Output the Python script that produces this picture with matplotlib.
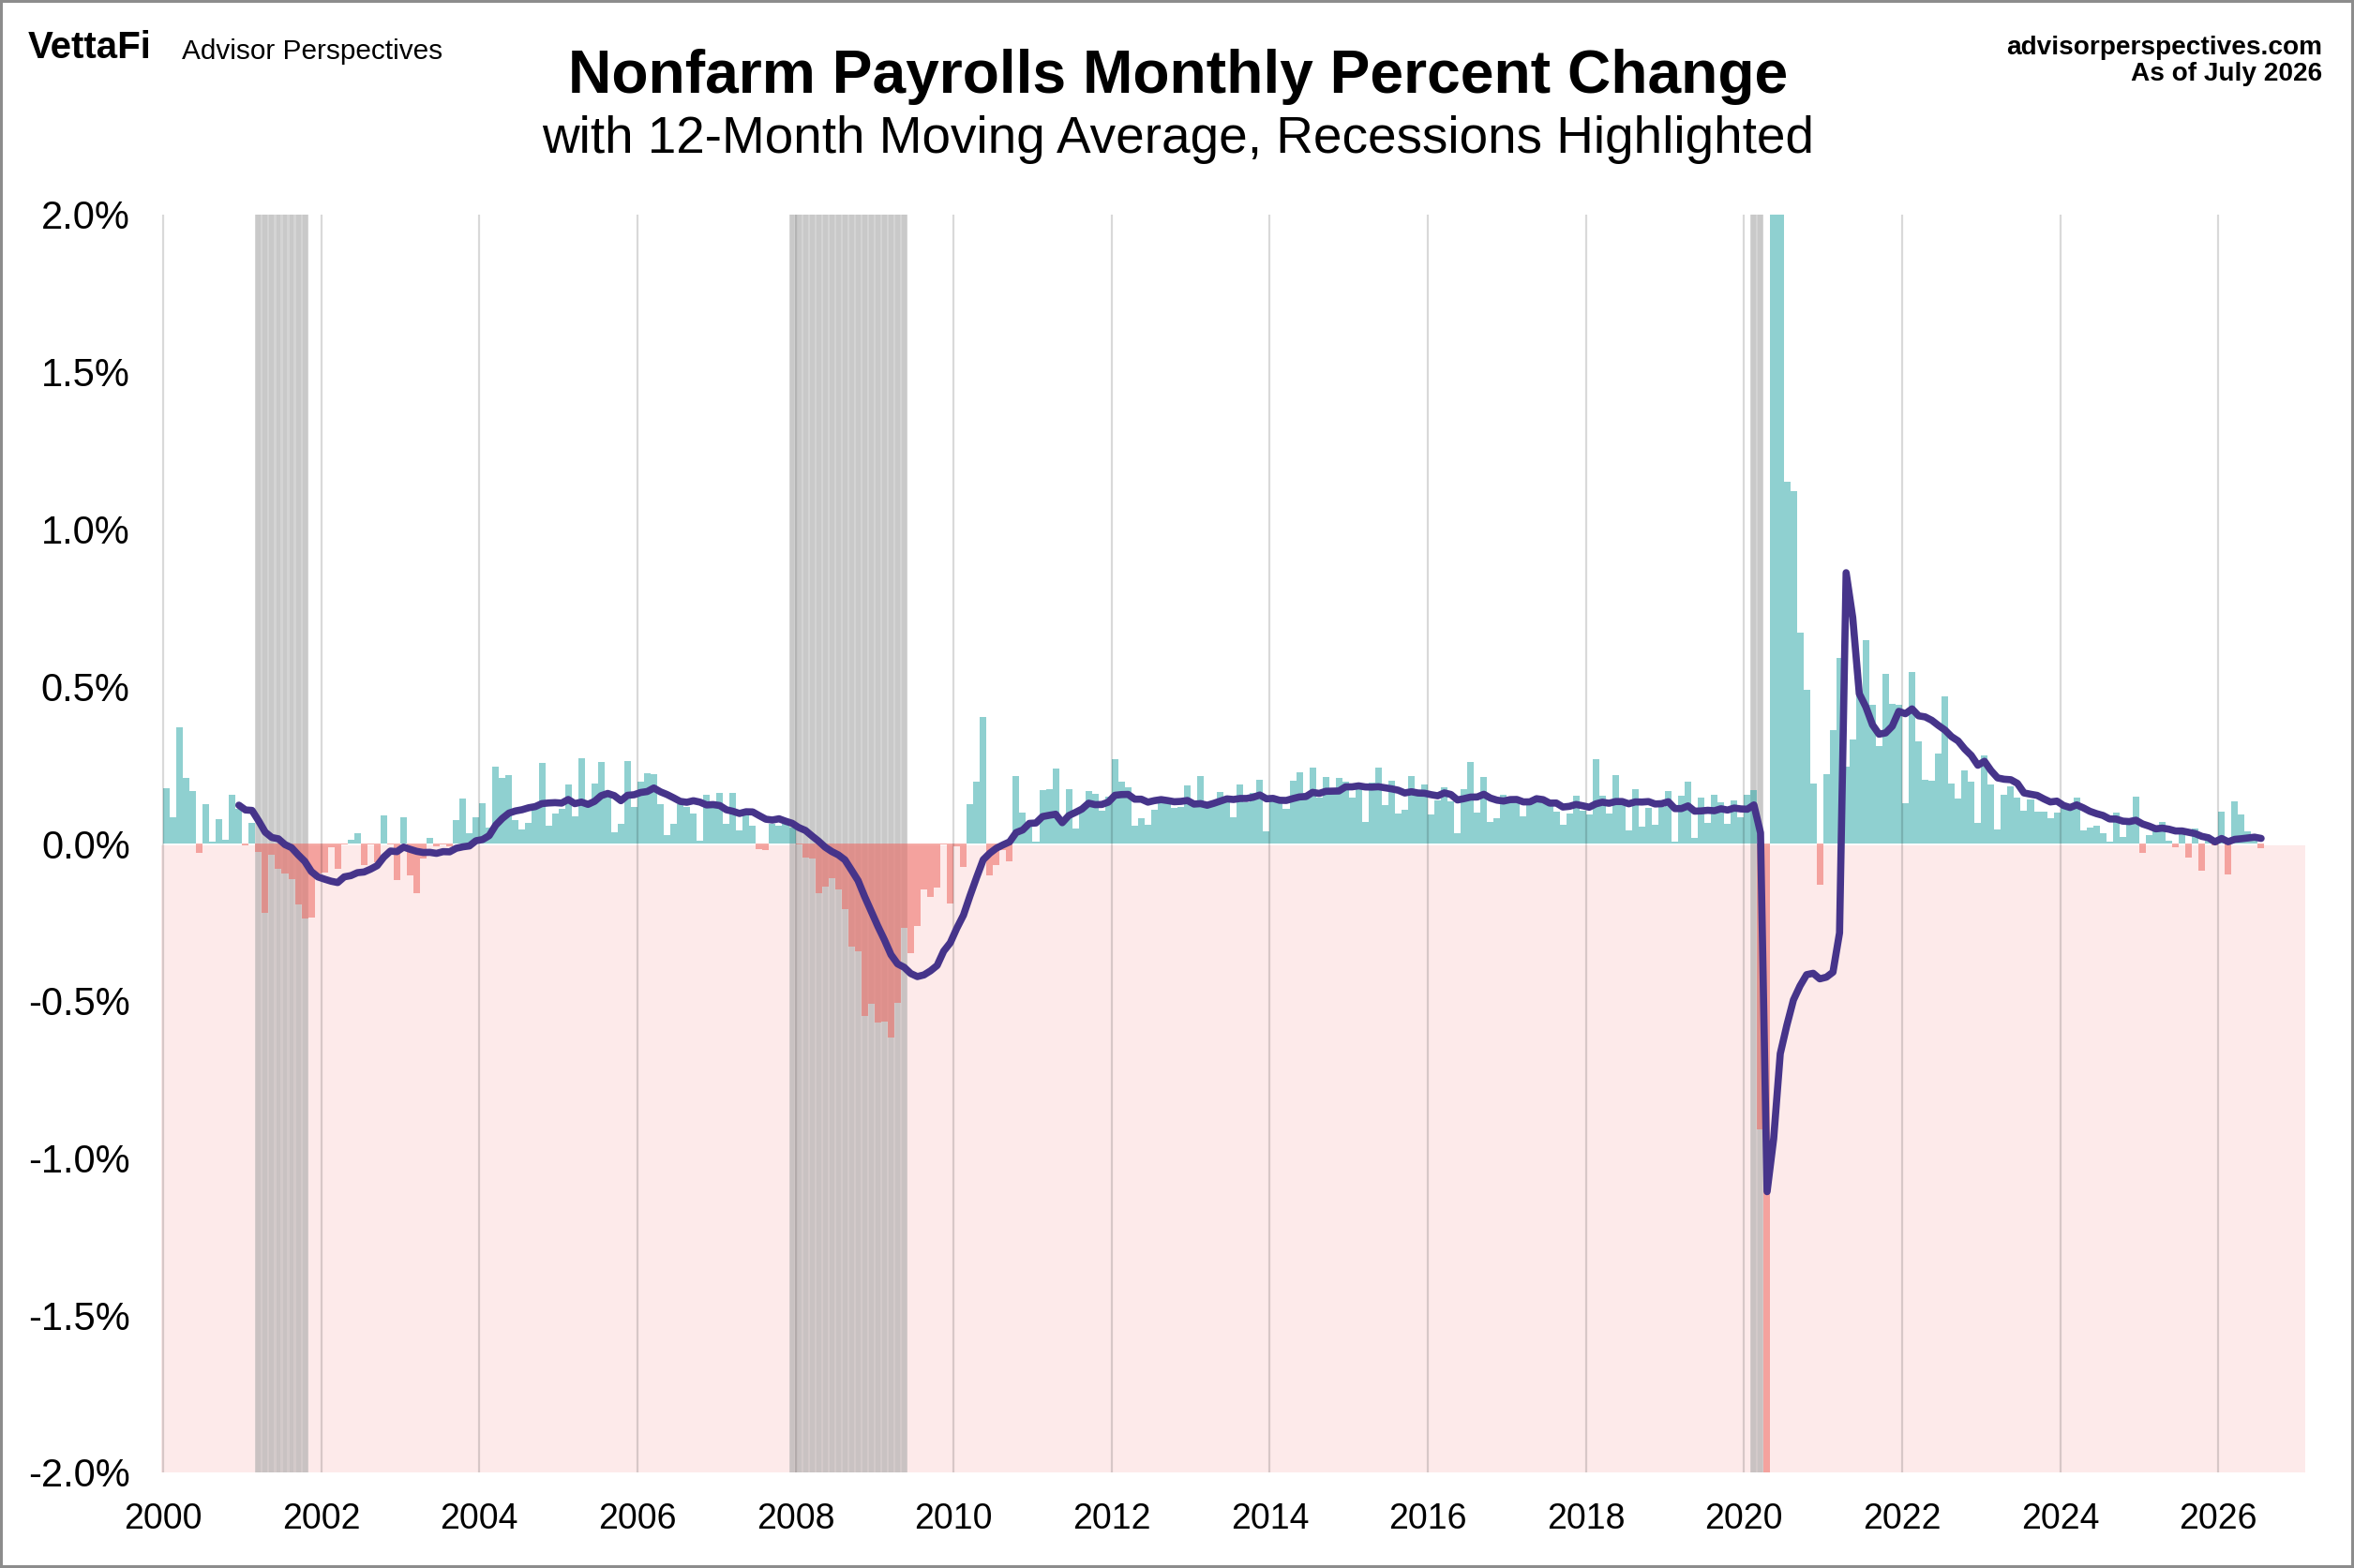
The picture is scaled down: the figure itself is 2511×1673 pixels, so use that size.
import numpy as np
import pandas as pd
import matplotlib
matplotlib.use("Agg")
import matplotlib.pyplot as plt
from matplotlib.patches import Rectangle

plt.rcParams['font.family'] = ['Liberation Sans', 'DejaVu Sans']

# ---------------- data ----------------
start_year = 2000
# Monthly percent change of nonfarm payrolls, Jan 2000 .. Jul 2026
pct_2000 = [0.176, 0.083, 0.37, 0.21, 0.167, -0.029, 0.125, 0.006, 0.078, 0.012, 0.155, 0.11]
pct_2001 = [-0.006, 0.065, -0.028, -0.222, -0.036, -0.08, -0.095, -0.112, -0.194, -0.237, -0.234, -0.095]
pct_2002 = [-0.092, -0.013, -0.08, -0.004, 0.011, 0.032, -0.069, -0.003, -0.06, 0.088, -0.003, -0.116]
pct_2003 = [0.082, -0.1, -0.157, -0.047, 0.017, -0.008, -0.003, -0.01, 0.076, 0.142, 0.032, 0.082]
pct_2004 = [0.127, 0.05, 0.245, 0.21, 0.218, 0.074, 0.044, 0.065, 0.12, 0.256, 0.056, 0.095]
pct_2005 = [0.11, 0.188, 0.086, 0.27, 0.13, 0.19, 0.26, 0.15, 0.036, 0.063, 0.262, 0.116]
pct_2006 = [0.197, 0.224, 0.22, 0.125, 0.027, 0.063, 0.125, 0.116, 0.095, 0.009, 0.155, 0.13]
pct_2007 = [0.161, 0.063, 0.161, 0.042, 0.092, 0.057, -0.017, -0.02, 0.063, 0.057, 0.063, 0.05]
pct_2008 = [-0.002, -0.045, -0.049, -0.158, -0.137, -0.11, -0.146, -0.209, -0.328, -0.343, -0.549, -0.51]
pct_2009 = [-0.57, -0.567, -0.617, -0.507, -0.268, -0.348, -0.262, -0.146, -0.171, -0.14, -0.002, -0.19]
pct_2010 = [-0.01, -0.074, 0.125, 0.197, 0.403, -0.1, -0.07, -0.02, -0.056, 0.215, 0.098, 0.06]
pct_2011 = [0.006, 0.17, 0.173, 0.239, 0.08, 0.173, 0.049, 0.11, 0.167, 0.158, 0.105, 0.149]
pct_2012 = [0.268, 0.197, 0.179, 0.057, 0.08, 0.06, 0.107, 0.149, 0.13, 0.114, 0.117, 0.185]
pct_2013 = [0.13, 0.215, 0.117, 0.13, 0.164, 0.146, 0.083, 0.188, 0.13, 0.161, 0.203, 0.039]
pct_2014 = [0.147, 0.142, 0.111, 0.2, 0.227, 0.162, 0.242, 0.147, 0.212, 0.167, 0.209, 0.197]
pct_2015 = [0.147, 0.18, 0.069, 0.194, 0.242, 0.122, 0.2, 0.095, 0.107, 0.215, 0.16, 0.188]
pct_2016 = [0.092, 0.137, 0.179, 0.134, 0.033, 0.173, 0.259, 0.098, 0.212, 0.069, 0.08, 0.155]
pct_2017 = [0.147, 0.142, 0.086, 0.137, 0.152, 0.137, 0.127, 0.101, 0.06, 0.095, 0.152, 0.105]
pct_2018 = [0.092, 0.268, 0.152, 0.095, 0.218, 0.137, 0.042, 0.173, 0.054, 0.113, 0.06, 0.116]
pct_2019 = [0.167, 0.006, 0.152, 0.197, 0.018, 0.146, 0.066, 0.155, 0.131, 0.063, 0.137, 0.083]
pct_2020 = [0.155, 0.17, -0.91, -13.5, 2.04, 3.39, 1.15, 1.12, 0.67, 0.49, 0.19, -0.13]
pct_2021 = [0.22, 0.36, 0.59, 0.245, 0.33, 0.48, 0.646, 0.44, 0.31, 0.54, 0.444, 0.44]
pct_2022 = [0.128, 0.545, 0.325, 0.204, 0.2, 0.286, 0.468, 0.19, 0.144, 0.233, 0.197, 0.067]
pct_2023 = [0.28, 0.188, 0.046, 0.154, 0.182, 0.146, 0.104, 0.14, 0.10, 0.10, 0.08, 0.098]
pct_2024 = [0.114, 0.11, 0.146, 0.042, 0.05, 0.057, 0.033, 0.007, 0.097, 0.02, 0.063, 0.15]
pct_2025 = [-0.029, 0.027, 0.043, 0.069, 0.01, -0.011, 0.033, -0.044, 0.047, -0.085, 0.01, -0.007]
pct_2026 = [0.10, -0.097, 0.134, 0.093, 0.04, 0.018, -0.014]

recession_start = ["2001-03", "2007-12", "2020-02"]
recession_end = ["2001-11", "2009-06", "2020-04"]

year_ticks = list(range(2000, 2027, 2))
y_ticks = [-2.0, -1.5, -1.0, -0.5, 0.0, 0.5, 1.0, 1.5, 2.0]

title = "Nonfarm Payrolls Monthly Percent Change"
subtitle = "with 12-Month Moving Average, Recessions Highlighted"

# ---------------- build series ----------------
pct = np.array(pct_2000 + pct_2001 + pct_2002 + pct_2003 + pct_2004 + pct_2005 +
               pct_2006 + pct_2007 + pct_2008 + pct_2009 + pct_2010 + pct_2011 +
               pct_2012 + pct_2013 + pct_2014 + pct_2015 + pct_2016 + pct_2017 +
               pct_2018 + pct_2019 + pct_2020 + pct_2021 + pct_2022 + pct_2023 +
               pct_2024 + pct_2025 + pct_2026)
n = len(pct)
months = np.arange(n)
x_left = start_year + months / 12.0
ma12 = pd.Series(pct).rolling(12).mean().to_numpy()


def ym_to_x(s):
    y, m = s.split("-")
    return int(y) + (int(m) - 1) / 12.0


# ---------------- figure ----------------
W, H = 2511, 1673
fig = plt.figure(figsize=(W / 100, H / 100), dpi=100)
left_px, right_px, top_px, bot_px = 172, 2459, 229, 1571
ax = fig.add_axes([left_px / W, 1 - bot_px / H, (right_px - left_px) / W, (bot_px - top_px) / H])
ax.set_xlim(2000 - 2 / 84.3, 2027.1)
ax.set_ylim(-2.0, 2.0)

# negative background
ax.axhspan(-2.0, 0.0, color="#fdeaea", zorder=0, lw=0)
ax.axhline(0, color="white", lw=2.0, zorder=0.5)

# recession shading (striped monthly)
for s, e in zip(recession_start, recession_end):
    xs, xe = ym_to_x(s), ym_to_x(e)
    ax.axvspan(xs, xe, color="#b0b0b0", alpha=0.54, lw=0, zorder=1)
    nm = int(round((xe - xs) * 12))
    for k in range(nm):
        ax.axvspan(xs + k / 12 + 0.15 / 12, xs + (k + 1) / 12 - 0.15 / 12,
                   color="#b0b0b0", alpha=0.28, lw=0, zorder=1.1)

# bars
colors = np.where(pct >= 0, "#33abab", "#ee6760")
ax.bar(x_left, pct, width=1 / 12, align="edge", color=colors, alpha=0.55,
       lw=0, zorder=2, antialiased=False)

# vertical grid lines
for yr in year_ticks:
    ax.axvline(yr, color="black", alpha=0.15, lw=1.6, zorder=3)

# 12-month moving average
ax.plot(x_left + 0.5 / 12, ma12, color="#46348a", lw=5.5, zorder=5,
        solid_capstyle="round", solid_joinstyle="round")

# axes styling
for sp in ax.spines.values():
    sp.set_visible(False)
ax.set_xticks(year_ticks)
ax.set_xticklabels([str(y) for y in year_ticks], fontsize=27)
ax.set_yticks(y_ticks)
ax.set_yticklabels([f"{v:.1f}%" for v in y_ticks], fontsize=30)
ax.tick_params(axis="both", length=0)
ax.tick_params(axis="x", pad=23)
ax.tick_params(axis="y", pad=24)

# texts
fig.text(0.5006, 1 - 99 / H, title, ha="center", va="baseline", fontsize=46.2, fontweight="bold")
fig.text(0.5006, 1 - 163 / H, subtitle, ha="center", va="baseline", fontsize=39.5)
fig.text(30 / W, 1 - 62 / H, "VettaFi", ha="left", va="baseline", fontsize=29, fontweight="bold")
fig.text(194 / W, 1 - 63 / H, "Advisor Perspectives", ha="left", va="baseline", fontsize=21.4)
fig.text(2477 / W, 1 - 58 / H, "advisorperspectives.com", ha="right", va="baseline",
         fontsize=20.2, fontweight="bold")
fig.text(2477 / W, 1 - 86 / H, "As of July 2026", ha="right", va="baseline",
         fontsize=20.2, fontweight="bold")

# outer frame
fig.add_artist(Rectangle((0, 0), 1, 1, transform=fig.transFigure, fill=False,
                         edgecolor="#8c8c8c", lw=4.3, zorder=10))

fig.savefig("out.png", dpi=100, facecolor="white")
